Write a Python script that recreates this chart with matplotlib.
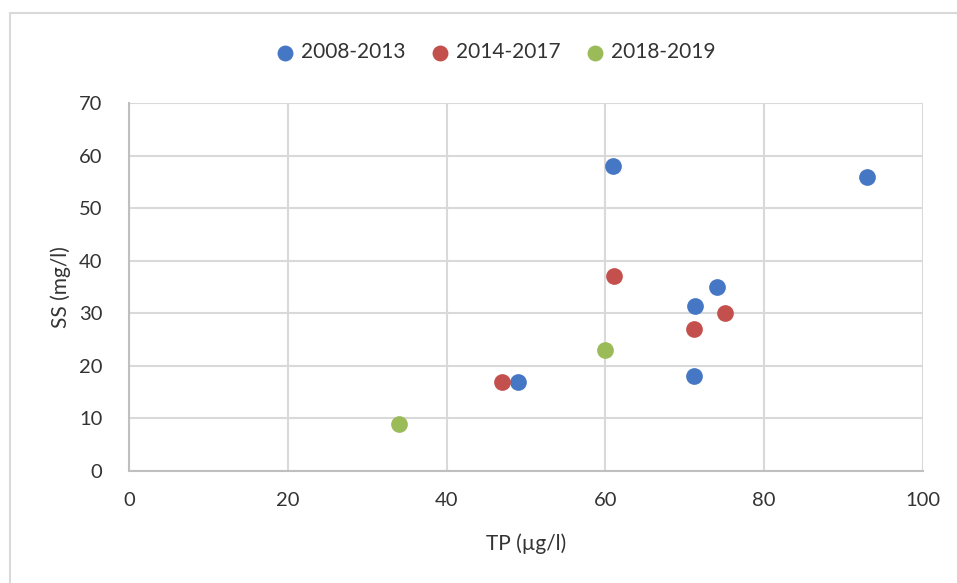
import matplotlib
matplotlib.use("Agg")
import matplotlib.pyplot as plt
from matplotlib.patches import Rectangle

plt.rcParams['font.family'] = ['Lato', 'DejaVu Sans']

series_names = ["2008-2013", "2014-2017", "2018-2019"]
colors = ["#4677C4", "#C4504D", "#9BBB59"]
tp_2008 = [61, 93, 74, 71.3, 71.2, 49]
ss_2008 = [58, 56, 35, 31.3, 18, 17]
tp_2014 = [61.1, 75, 71.2, 47]
ss_2014 = [37, 30, 27, 17]
tp_2018 = [60, 34]
ss_2018 = [23, 9]
xs = [tp_2008, tp_2014, tp_2018]
ys = [ss_2008, ss_2014, ss_2018]

W, H = 957, 583
fig = plt.figure(figsize=(W/100, H/100), dpi=100)
fig.patches.append(Rectangle((10/W, 1-(H+5)/H), (W+5)/W, (H-13+5)/H, transform=fig.transFigure,
                             fill=False, edgecolor="#d9d9d9", linewidth=1.5))
ax = fig.add_axes([129/W, 1-471/H, (923-129)/W, (471-103)/H])

for name, c, x, y in zip(series_names, colors, xs, ys):
    ax.scatter(x, y, s=145, color=c, label=name, zorder=3, linewidths=0)

ax.set_xlim(0, 100)
ax.set_ylim(0, 70)
ax.set_xticks(range(0, 101, 20))
ax.set_yticks(range(0, 71, 10))
ax.grid(True, color="#d9d9d9", linewidth=1.5)
ax.set_axisbelow(True)
for s in ["top", "right"]:
    ax.spines[s].set_visible(False)
for s in ["left", "bottom"]:
    ax.spines[s].set_color("#bfbfbf")
    ax.spines[s].set_linewidth(1.5)
ax.tick_params(axis="x", length=0, labelsize=14.5, colors="#333333", pad=15)
ax.tick_params(axis="y", length=0, labelsize=14.5, colors="#333333", pad=19)
ax.set_xlabel("TP (µg/l)", fontsize=15, color="#333333", labelpad=18)
ax.set_ylabel("SS (mg/l)", fontsize=15, color="#333333")
ax.yaxis.set_label_coords(-0.073, 0.5)

fig.legend(loc="center", bbox_to_anchor=(495/W, 1-52/H), ncol=3, frameon=False,
           fontsize=15, handlelength=1.0, handletextpad=0.27, columnspacing=1.13,
           markerscale=0.95, labelcolor="#333333")

fig.savefig("out.png", dpi=100)
